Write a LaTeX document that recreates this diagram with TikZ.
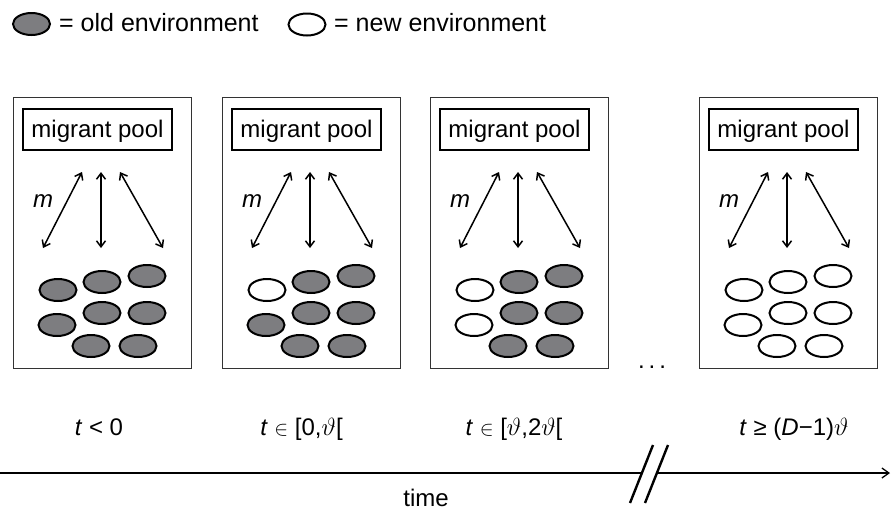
\documentclass[tikz,border=0pt]{standalone}
\usepackage{fontspec}
\setmainfont{Liberation Sans}
\usetikzlibrary{arrows.meta,shapes.geometric}
\definecolor{envgray}{RGB}{125,125,128}
\begin{document}
\begin{tikzpicture}[x=1pt,y=-1pt,
  font=\fontsize{24}{28}\selectfont,
  inner sep=0pt,
  panelbox/.style={draw=black!80, line width=0.9pt, minimum width=178pt, minimum height=271pt, anchor=north west},
  pool/.style={draw, line width=1.8pt, minimum width=149pt, minimum height=41pt, text height=17pt, text depth=2pt},
  mig/.style={line width=1.5pt, {Straight Barb[length=6pt,width=9pt]}-{Straight Barb[length=6pt,width=9pt]}},
  envbase/.style={ellipse, draw, line width=2pt, minimum width=37pt, minimum height=22pt},
  oldenv/.style={envbase, fill=envgray},
  newenv/.style={envbase, fill=white},
  lbl/.style={anchor=base},
  legtext/.style={anchor=base west, font=\fontsize{25}{29}\selectfont},
  axisline/.style={line width=2.8pt},
  brk/.style={line width=2.4pt}
]
\useasboundingbox (0,0) rectangle (891,512);

% legend
\node[oldenv] (lg1) at (31.5,24) {};
\node[legtext] (lt1) at (59,31) {= old environment};
\node[newenv] (lg2) at (307,24.5) {};
\node[legtext] (lt2) at (334,31) {= new environment};

% panels
\foreach \k/\dx in {1/0, 2/209, 3/417, 4/686} {
  \node[panelbox] (P\k) at (13+\dx,97) {};
  \node[pool] (M\k) at (97.5+\dx,129.5) {migrant pool};
  \coordinate (Lt\k) at (82+\dx,172);
  \coordinate (Lb\k) at (43+\dx,248);
  \coordinate (Ct\k) at (101+\dx,172);
  \coordinate (Cb\k) at (101+\dx,248);
  \coordinate (Rt\k) at (120+\dx,172);
  \coordinate (Rb\k) at (163+\dx,248);
  \draw[mig] (Lt\k) -- (Lb\k);
  \draw[mig] (Ct\k) -- (Cb\k);
  \draw[mig] (Rt\k) -- (Rb\k);
  \node[lbl, font=\fontsize{24}{28}\selectfont\itshape] (m\k) at (43+\dx,207) {m};
  \foreach \i/\ex/\ey in {1/58/290, 2/102/282, 3/147/276, 4/57/325, 5/102/313, 6/147/313, 7/91/346, 8/138/346} {
    \pgfmathtruncatemacro\isnew{(\k==4) || ((\k>1) && (\i==1)) || ((\k==3) && (\i==4))}
    \ifnum\isnew=1 \def\est{newenv}\else\def\est{oldenv}\fi
    \node[\est] (E\k-\i) at (\ex+\dx,\ey) {};
  }
}

% dots between panels
\node[lbl] (dots) at (652,368.5) {.\kern4pt.\kern4pt.};

% time labels
\node[lbl] (t1) at (99,435) {\textit{t} < 0};
\node[lbl] (t2) at (301.5,435) {\textit{t} {\fontsize{20}{22}\selectfont$\in$} [0,$\vartheta$[};
\node[lbl] (t3) at (514,435) {\textit{t} {\fontsize{20}{22}\selectfont$\in$} [$\vartheta$,2$\vartheta$[};
\node[lbl] (t4) at (794,435) {\textit{t} ≥ (\textit{D}−1)$\vartheta$};

% time axis
\coordinate (ax0) at (0,473);
\coordinate (gapL) at (642,473);
\coordinate (gapR) at (657,473);
\coordinate (ax1) at (890,473);
\draw[axisline] (ax0) -- (gapL);
\draw[axisline, -{Straight Barb[length=7pt,width=10pt,line width=1.3pt]}] (gapR) -- (ax1);
\draw[brk] (653,445) -- (630,503);
\draw[brk] (668,445) -- (645,503);
\node[lbl] (time) at (426,506) {time};
\end{tikzpicture}
\end{document}
